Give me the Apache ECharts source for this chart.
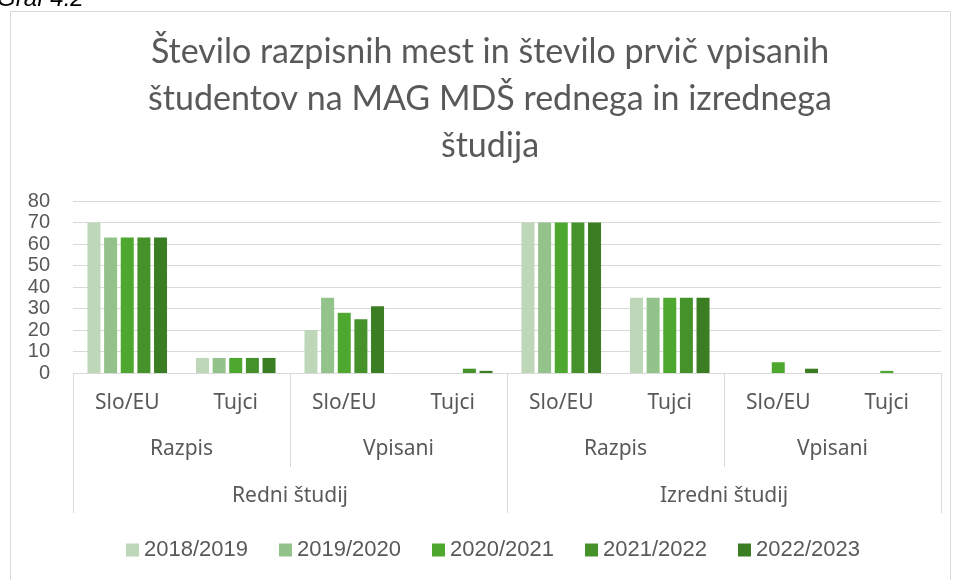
<!DOCTYPE html>
<html>
<head>
<meta charset="utf-8">
<title>Graf 4.2</title>
<script src="https://cdn.jsdelivr.net/npm/echarts@6/dist/echarts.min.js"></script>
<style>
    html, body { margin: 0; padding: 0; background: #fff; }
    #chart { width: 957px; height: 580px; }
</style>
</head>
<body>
<div id="chart"></div>
<script>
// categories on three levels of the x axis
const categories = ['Slo/EU', 'Tujci', 'Slo/EU', 'Tujci', 'Slo/EU', 'Tujci', 'Slo/EU', 'Tujci'];
const typeGroups = ['Razpis', 'Vpisani', 'Razpis', 'Vpisani'];
const studyGroups = ['Redni študij', 'Izredni študij'];

const years = ['2018/2019', '2019/2020', '2020/2021', '2021/2022', '2022/2023'];
const y2018 = [70, 7, 20, 0, 70, 35, 0, 0];
const y2019 = [63, 7, 35, 0, 70, 35, 0, 0];
const y2020 = [63, 7, 28, 0, 70, 35, 5, 1];
const y2021 = [63, 7, 25, 2, 70, 35, 0, 0];
const y2022 = [63, 7, 31, 1, 70, 35, 2, 0];

const colors = ['#bdd7b8', '#93c38a', '#4ea72e', '#45922b', '#3b7d23'];

const chart = echarts.init(document.getElementById('chart'));

const textGray = '#595959';
const lineGray = '#d9d9d9';
const seriesData = [y2018, y2019, y2020, y2021, y2022];

const option = {
    animation: false,
    color: colors,
    graphic: [
        {
            type: 'rect',
            shape: { x: 10.5, y: 11.5, width: 940, height: 580 },
            style: { fill: 'none', stroke: lineGray, lineWidth: 1 },
            silent: true,
        },
        {
            // chart title, centred a bit right of the page centre
            type: 'text',
            x: 490,
            y: 29,
            style: {
                text: 'Število razpisnih mest in število prvič vpisanih\nštudentov na MAG MDŠ rednega in izrednega\nštudija',
                font: '400 34px Lato',
                lineHeight: 47,
                fill: textGray,
                textAlign: 'center',
                textVerticalAlign: 'top',
            },
        },
        {
            type: 'text',
            x: -3,
            y: 11,
            style: {
                text: 'Graf 4.2',
                font: 'italic 24px "Liberation Sans"',
                fill: '#000',
                textVerticalAlign: 'bottom',
            },
        },
    ],
    legend: {
        data: years,
        left: 126,
        top: 539,
        padding: 0,
        icon: 'rect',
        itemWidth: 13,
        itemHeight: 13,
        itemGap: 31,
        textStyle: {
            fontFamily: 'Liberation Sans',
            fontSize: 22,
            color: textGray,
        },
    },
    grid: {
        left: 73,
        right: 16,
        top: 201,
        bottom: 207,
        containLabel: false,
    },
    xAxis: [
        {
            type: 'category',
            data: categories,
            position: 'bottom',
            axisLine: { lineStyle: { color: lineGray, width: 1 } },
            axisTick: { show: false },
            axisLabel: {
                interval: 0,
                margin: 20,
                fontFamily: 'Noto Sans',
                fontSize: 21,
                color: textGray,
            },
        },
        {
            type: 'category',
            data: typeGroups,
            position: 'bottom',
            axisLine: { show: false },
            axisTick: { show: true, length: 94, lineStyle: { color: lineGray } },
            axisLabel: {
                interval: 0,
                margin: 66,
                fontFamily: 'Noto Sans',
                fontSize: 21,
                color: textGray,
            },
        },
        {
            type: 'category',
            data: studyGroups,
            position: 'bottom',
            axisLine: { show: false },
            axisTick: { show: true, length: 140, lineStyle: { color: lineGray } },
            axisLabel: {
                interval: 0,
                margin: 113,
                fontFamily: 'Noto Sans',
                fontSize: 21,
                color: textGray,
            },
        },
    ],
    yAxis: {
        type: 'value',
        min: 0,
        max: 80,
        interval: 10,
        axisLine: { show: false },
        axisTick: { show: false },
        splitLine: { lineStyle: { color: lineGray, width: 1 } },
        axisLabel: {
            margin: 23,
            fontFamily: 'Liberation Sans',
            fontSize: 20,
            color: textGray,
        },
    },
    series: years.map((y, i) => ({
        name: y,
        type: 'bar',
        xAxisIndex: 0,
        data: seriesData[i],
        barWidth: 13,
        barGap: '28%',
    })),
};

chart.setOption(option);
</script>
</body>
</html>
